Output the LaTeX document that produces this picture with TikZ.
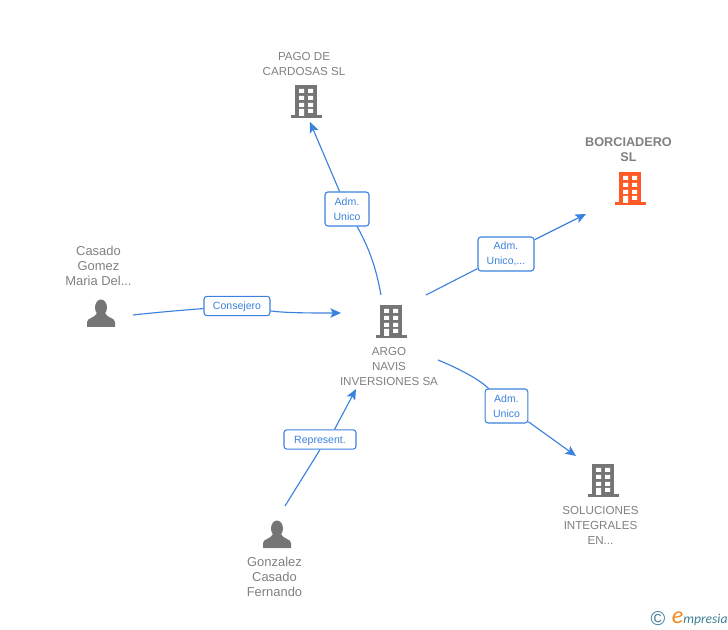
\documentclass[tikz,border=0pt]{standalone}
\usepackage{fontspec}
\setmainfont{Liberation Sans}
\newfontfamily\logofont{Carlito}
\usetikzlibrary{arrows.meta}
\definecolor{linkblue}{HTML}{3B82DE}
\definecolor{icongray}{HTML}{757575}
\definecolor{textgray}{HTML}{808080}
\definecolor{mainorange}{HTML}{FF5A26}
\definecolor{logoteal}{HTML}{3F7F96}
\definecolor{logoorange}{HTML}{F08A1D}
\tikzset{
    nametext/.style={text=textgray, align=center, inner sep=0pt, font=\fontsize{8.7}{11.25}\selectfont},
    personname/.style={nametext, font=\fontsize{9.7}{11.25}\selectfont},
    mainname/.style={nametext, font=\fontsize{9.5}{11.25}\selectfont\bfseries},
    rolebox/.style={draw=linkblue, line width=0.8pt, rounded corners=2.2pt, fill=white, text=linkblue,
        align=center, inner sep=0pt, font=\fontsize{7.9}{11.25}\selectfont},
    link/.style={draw=linkblue, line width=0.85pt},
    arrowlink/.style={link, -{Stealth[length=8pt,width=7pt,inset=1.8pt]}},
    pics/building/.style={code={
        \fill[#1] (-11,-16) rectangle (11,15);
        \fill[#1] (-15,14) rectangle (16,17);
        \foreach \y in {-12,-5,2}
            \fill[white] (-7,\y) rectangle (-2,{\y+4}) (2,\y) rectangle (7,{\y+4});
        \fill[white] (-7,8) rectangle (-2,15) (2,8) rectangle (7,12);
    }},
    pics/person/.style={code={
        \fill[icongray] (0,-5.5) ellipse (6 and 8);
        \fill[icongray] (-14,14) -- (-14,9) .. controls (-14,5) and (-6,5) .. (-4,0)
            -- (4,0) .. controls (6,5) and (14,5) .. (14,9) -- (14,14) -- cycle;
    }}
}
\begin{document}
\begin{tikzpicture}[x=0.75pt,y=-0.75pt]
    \useasboundingbox (0,0) rectangle (728,630);
    % icons
    \pic at (306,101) {building=icongray};
    \pic at (630,188) {building=mainorange};
    \pic at (391,321) {building=icongray};
    \pic at (603,480) {building=icongray};
    \pic at (101,313) {person};
    \pic at (277,534) {person};
    % names
    \node[nametext] (pago) at (304,64) {PAGO DE\\CARDOSAS SL};
    \node[mainname] (borciadero) at (628.5,150) {BORCIADERO\\SL};
    \node[personname] (casado) at (98.5,266) {Casado\\Gomez\\Maria Del...};
    \node[nametext] (argo) at (389,367) {ARGO\\NAVIS\\INVERSIONES SA};
    \node[nametext] (soluciones) at (600.5,525) {SOLUCIONES\\INTEGRALES\\EN...};
    \node[personname] (gonzalez) at (274.5,577) {Gonzalez\\Casado\\Fernando};
    % roles
    \node[rolebox, minimum width=33pt, minimum height=25.5pt] (rolepago) at (347,209) {Adm.\\Unico};
    \node[rolebox, minimum width=42pt, minimum height=25.5pt] (roleborciadero) at (506,254) {Adm.\\Unico,...};
    \node[rolebox, text depth=0pt, minimum width=49.5pt, minimum height=14.5pt] (rolecasado) at (237,306) {Consejero};
    \node[rolebox, minimum width=32pt, minimum height=25.5pt] (rolesoluciones) at (506.5,406) {Adm.\\Unico};
    \node[rolebox, text depth=0pt, minimum width=54pt, minimum height=14.5pt] (rolegonzalez) at (320,439.5) {Represent.};
    % ends of the links
    \coordinate (pagostart) at (381,295);
    \coordinate (pagoend) at (310,122);
    \coordinate (borcstart) at (426,295);
    \coordinate (borcend) at (586,214);
    \coordinate (casadostart) at (133,315);
    \coordinate (casadoend) at (341,313);
    \coordinate (solstart) at (438,360);
    \coordinate (solend) at (576,456);
    \coordinate (gonzstart) at (285,506);
    \coordinate (gonzend) at (356,389);
    % links
    \draw[link] (pagostart) .. controls (376,268) and (370,250) .. (rolepago.-60);
    \draw[arrowlink] (rolepago) -- (pagoend);
    \draw[link] (borcstart) -- (roleborciadero);
    \draw[arrowlink] (roleborciadero) -- (borcend);
    \draw[link] (casadostart) .. controls (160,312) and (185,310) .. (rolecasado);
    \draw[arrowlink] (rolecasado) .. controls (285,313) and (310,313) .. (casadoend);
    \draw[link] (solstart) .. controls (460,369) and (480,380) .. (rolesoluciones);
    \draw[arrowlink] (rolesoluciones) -- (solend);
    \draw[link] (gonzstart) -- (rolegonzalez.south);
    \draw[arrowlink] (rolegonzalez.35) -- (gonzend);
    % logo
    \node[text=logoteal, inner sep=0pt, font=\fontsize{15}{15}\selectfont] (copyright) at (658,619) {©};
    \node[text=logoorange, inner sep=0pt, font=\logofont\itshape\fontsize{18}{18}\selectfont] (logoe) at (677.5,617.5) {e};
    \node[text=logoteal, inner sep=0pt, anchor=west, font=\logofont\itshape\fontsize{10.2}{10.2}\selectfont] (logotext) at (683,619.5) {mpresia};
\end{tikzpicture}
\end{document}
